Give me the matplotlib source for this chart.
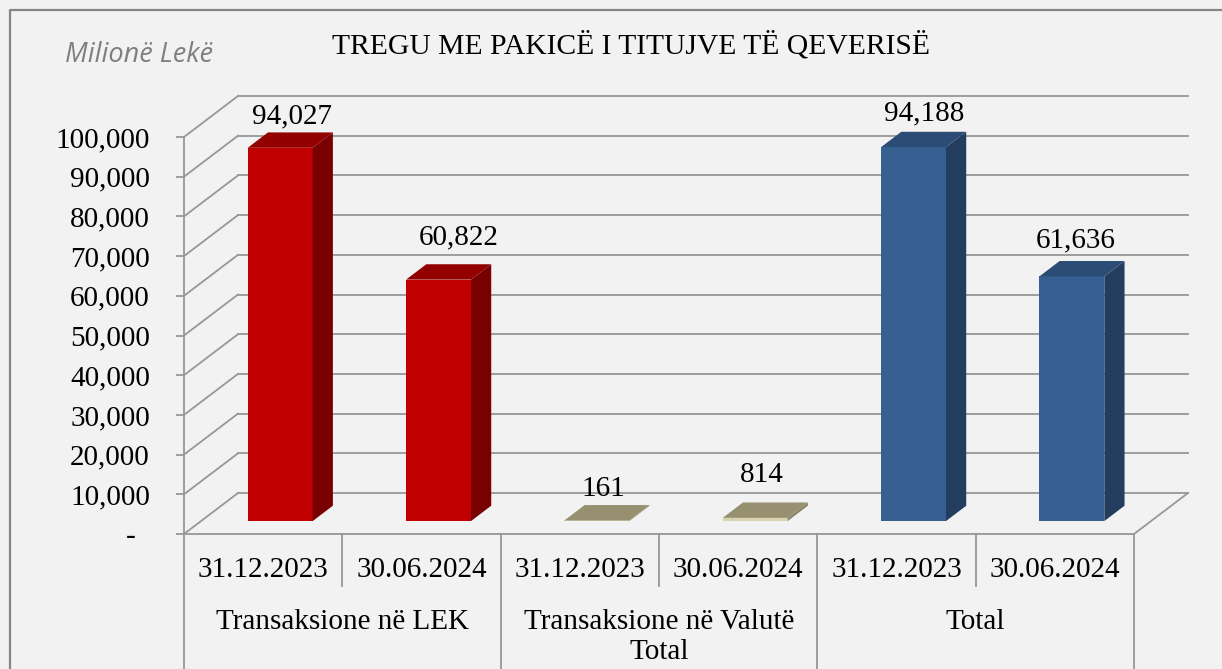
import matplotlib
matplotlib.use('Agg')
import matplotlib.pyplot as plt
from matplotlib.patches import Polygon
from matplotlib.lines import Line2D
from matplotlib.ticker import FuncFormatter

# data
groups = ['Transaksione në LEK', 'Transaksione në Valutë\nTotal', 'Total']
dates = ['31.12.2023', '30.06.2024']
lek = [94027, 60822]
valute = [161, 814]
total = [94188, 61636]
series = [lek, valute, total]
yticks = list(range(0, 100001, 10000))

# colours per group: front, side, top
face_cols = [('#C00000', '#780000', '#930000'),
             ('#D9D3B0', '#8A8366', '#979070'),
             ('#366092', '#223D5E', '#2B4C74')]
bg = '#F2F2F2'
grid_col = '#979797'
serif = 'Liberation Serif'
fs = 21

# label nudges in px (dx, gap above bar top), as excel placed them
lab_dx = [2, 10, -4, -3, 1, -6]
lab_gap = [9, 20, 9, 20, 11, 14]

# layout (px of a 1222x669 figure)
W, H = 1222, 669
ax_l, ax_r, ax_b, ax_t = 184, 1134, 534, 137
px_per_val = (ax_b - ax_t) / 100000
px_per_cat = (ax_r - ax_l) / 6
DX = 54 / px_per_cat          # depth offset in category units
DY = 41 / px_per_val          # depth offset in value units
d0, d1 = 0.315, 0.69          # bar depth span
bar_w = 0.41

def v_of_px(p):
    return (ax_b - p) / px_per_val

fig = plt.figure(figsize=(W / 100, H / 100), dpi=100)
fig.patch.set_facecolor(bg)
ax = fig.add_axes([ax_l / W, (H - ax_b) / H, (ax_r - ax_l) / W, (ax_b - ax_t) / H])
ax.set_facecolor('none')
ax.set_xlim(0, 6)
ax.set_ylim(0, 100000)
for s in ['top', 'right']:
    ax.spines[s].set_visible(False)
for s in ['left', 'bottom']:
    ax.spines[s].set_color(grid_col)
    ax.spines[s].set_linewidth(1.3)
ax.set_xticks([])
ax.set_yticks(yticks)
ax.yaxis.set_major_formatter(FuncFormatter(lambda v, p: '-  ' if v == 0 else f'{v:,.0f}'))
ax.tick_params(axis='y', length=6, width=1.3, color=grid_col, pad=18.5,
               labelsize=fs)
for lab in ax.get_yticklabels():
    lab.set_fontfamily(serif)

# walls and floor
for v in yticks:
    ax.add_line(Line2D([0, DX], [v, v + DY], color=grid_col, lw=1.3, clip_on=False, zorder=1))
    ax.add_line(Line2D([DX, 6 + DX], [v + DY, v + DY], color=grid_col, lw=1.3, clip_on=False, zorder=1))
ax.add_line(Line2D([6, 6 + DX], [0, DY], color=grid_col, lw=1.3, clip_on=False, zorder=1))

# bars
for g, vals in enumerate(series):
    fc, sc, tc = face_cols[g]
    for j, v in enumerate(vals):
        i = g * 2 + j
        x0 = i + (1 - bar_w) / 2 + d0 * DX
        x1 = x0 + bar_w
        b = d0 * DY
        ddx, ddy = (d1 - d0) * DX, (d1 - d0) * DY
        front = Polygon([(x0, b), (x1, b), (x1, b + v), (x0, b + v)], closed=True,
                        fc=fc, ec='none', clip_on=False, zorder=3)
        side = Polygon([(x1, b), (x1 + ddx, b + ddy), (x1 + ddx, b + v + ddy), (x1, b + v)],
                       closed=True, fc=sc, ec='none', clip_on=False, zorder=3)
        top = Polygon([(x0, b + v), (x1, b + v), (x1 + ddx, b + v + ddy), (x0 + ddx, b + v + ddy)],
                      closed=True, fc=tc, ec='none', clip_on=False, zorder=3)
        for p in (front, side, top):
            ax.add_patch(p)
        ax.text((x0 + x1 + ddx) / 2 + lab_dx[i] / px_per_cat,
                b + v + ddy + lab_gap[i] / px_per_val, f'{v:,.0f}', ha='center',
                va='baseline', fontsize=fs, family=serif, zorder=5)

# category table below
bottom_v = v_of_px(H + 5)
for k in range(0, 7, 2):
    ax.add_line(Line2D([k, k], [0, bottom_v], color=grid_col, lw=1.3, clip_on=False))
for k in range(1, 6, 2):
    ax.add_line(Line2D([k, k], [0, v_of_px(586)], color=grid_col, lw=1.3, clip_on=False))
for g, name in enumerate(groups):
    for j, d in enumerate(dates):
        ax.text(g * 2 + j + 0.5, v_of_px(570), d, ha='center', va='center',
                fontsize=fs, family=serif)
    ax.text(g * 2 + 1, v_of_px(609), name, ha='center', va='top', fontsize=fs,
            family=serif, linespacing=1.2)

# titles
fig.text(631 / W, 1 - 45 / H, 'TREGU ME PAKICË I TITUJVE TË QEVERISË', ha='center',
         va='center', fontsize=21.3, family=serif)
fig.text(65 / W, 1 - 55 / H, 'Milionë Lekë', ha='left', va='center', fontsize=19.5,
         family='Open Sans', style='italic', color='#7F7F7F')

# chart border
fig.add_artist(Line2D([10 / W, 10 / W, 1.01], [-0.01, 1 - 10 / H, 1 - 10 / H],
                      color='#868686', lw=1.6, transform=fig.transFigure))

fig.savefig('out.png', dpi=100, facecolor=bg)
